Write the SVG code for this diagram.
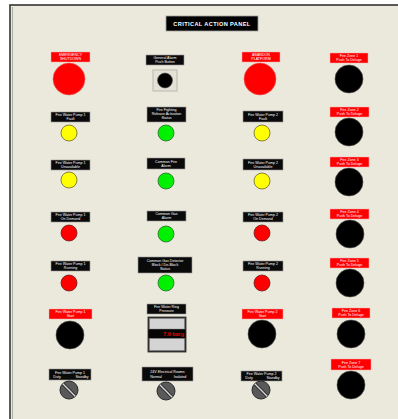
<svg xmlns="http://www.w3.org/2000/svg" width="398" height="419" viewBox="0 0 398 419">
<defs>
<style>
.bl{fill:#0a0a0a;stroke:#9a9a9a;stroke-width:0.6}
.rl{fill:#ff0000;stroke:#f4b0b0;stroke-width:0.5}
.t{fill:#ffffff;font-family:"Liberation Sans",Arial,sans-serif;font-size:3.6px;text-anchor:middle}
.big{fill:#ff0000;stroke:#e86060;stroke-width:0.6}
.push{fill:#000000;stroke:#555;stroke-width:0.6}
.yel{fill:#ffff00;stroke:#6b6530;stroke-width:0.8}
.grn{fill:#00f000;stroke:#2d6a2d;stroke-width:0.8}
.red{fill:#ff0000;stroke:#6a2020;stroke-width:0.8}
.knob{fill:#595959;stroke:#2a2a2a;stroke-width:1}
.stripe{stroke:#2a2a2a;stroke-width:3.2;stroke-linecap:butt}
.stripe2{stroke:#d8d8d8;stroke-width:1.4;stroke-linecap:butt}
</style>
<g id="knobdef">
<circle class="knob" cx="0" cy="0" r="9"/>
<line class="stripe" x1="-6.2" y1="-6.2" x2="6.2" y2="6.2"/>
<line class="stripe2" x1="-6.2" y1="-6.2" x2="6.2" y2="6.2"/>
</g>
</defs>
<rect x="0" y="0" width="398" height="419" fill="#ffffff"/>
<g id="panel">
<rect x="10" y="5" width="392" height="420" fill="#ebe9db" stroke="#333" stroke-width="1.6"/>
<line x1="12.5" y1="7" x2="12.5" y2="419" stroke="#9a9a9a" stroke-width="0.8"/>
</g>
<g id="title">
<rect x="166" y="16" width="92" height="15" fill="#000" stroke="#a0a0a0" stroke-width="0.8"/>
<text x="212" y="26" fill="#fff" font-family="Liberation Sans,Arial,sans-serif" font-size="5.6" font-weight="bold" text-anchor="middle" letter-spacing="0.4">CRITICAL  ACTION  PANEL</text>
</g>

<!-- Row 1 -->
<g id="emergency-shutdown">
<rect class="rl" x="51" y="52" width="39" height="10"/>
<text class="t" x="70.5" y="56">EMERGENCY</text><text class="t" x="70.5" y="60.2">SHUTDOWN</text>
<circle class="big" cx="69" cy="79" r="16"/>
</g>
<g id="general-alarm">
<rect class="bl" x="146" y="55" width="38" height="10"/>
<text class="t" x="165" y="59">General Alarm</text><text class="t" x="165" y="63.2">Push Button</text>
<rect x="153" y="70" width="24" height="21" fill="#e4e2d6" stroke="#b8b8b0" stroke-width="1"/>
<circle class="push" cx="165" cy="80.5" r="7.5"/>
</g>
<g id="abandon-platform">
<rect class="rl" x="242" y="52" width="38" height="10"/>
<text class="t" x="261" y="56">ABANDON</text><text class="t" x="261" y="60.2">PLATFORM</text>
<circle class="big" cx="260" cy="79" r="16"/>
</g>
<g id="fire-zone-1">
<rect class="rl" x="330" y="53" width="38" height="10"/>
<text class="t" x="349" y="57">Fire Zone 1</text><text class="t" x="349" y="61.2">Push To Deluge</text>
<circle class="push" cx="349" cy="79" r="14"/>
</g>

<!-- Row 2 -->
<g id="fwp1-fault">
<rect class="bl" x="51" y="112" width="39" height="10"/>
<text class="t" x="70.5" y="116">Fire Water Pump 1</text><text class="t" x="70.5" y="120.2">Fault</text>
<circle class="yel" cx="69" cy="133" r="8"/>
</g>
<g id="ff-release">
<rect class="bl" x="147" y="107" width="39" height="15"/>
<text class="t" x="166.5" y="111">Fire Fighting</text><text class="t" x="166.5" y="115.2">Release Activation</text><text class="t" x="166.5" y="119.4">Status</text>
<circle class="grn" cx="166" cy="133" r="8"/>
</g>
<g id="fwp2-fault">
<rect class="bl" x="243" y="111" width="40" height="11"/>
<text class="t" x="263" y="115.5">Fire Water Pump 2</text><text class="t" x="263" y="119.7">Fault</text>
<circle class="yel" cx="262" cy="133" r="8"/>
</g>
<g id="fire-zone-2">
<rect class="rl" x="330" y="107" width="39" height="10"/>
<text class="t" x="349.5" y="111">Fire Zone 2</text><text class="t" x="349.5" y="115.2">Push To Deluge</text>
<circle class="push" cx="349" cy="132" r="14"/>
</g>

<!-- Row 3 -->
<g id="fwp1-unavailable">
<rect class="bl" x="51" y="160" width="39" height="10"/>
<text class="t" x="70.5" y="164">Fire Water Pump 1</text><text class="t" x="70.5" y="168.2">Unavailable</text>
<circle class="yel" cx="69" cy="180" r="8"/>
</g>
<g id="common-fire-alarm">
<rect class="bl" x="147" y="158" width="38" height="11"/>
<text class="t" x="166" y="162.5">Common Fire</text><text class="t" x="166" y="166.7">Alarm</text>
<circle class="grn" cx="166" cy="181" r="8"/>
</g>
<g id="fwp2-unavailable">
<rect class="bl" x="243" y="159" width="40" height="11"/>
<text class="t" x="263" y="163.5">Fire Water Pump 2</text><text class="t" x="263" y="167.7">Unavailable</text>
<circle class="yel" cx="262" cy="181" r="8"/>
</g>
<g id="fire-zone-3">
<rect class="rl" x="330" y="157" width="39" height="10"/>
<text class="t" x="349.5" y="161">Fire Zone 3</text><text class="t" x="349.5" y="165.2">Push To Deluge</text>
<circle class="push" cx="349" cy="182" r="14"/>
</g>

<!-- Row 4 -->
<g id="fwp1-on-demand">
<rect class="bl" x="51" y="212" width="39" height="10"/>
<text class="t" x="70.5" y="216">Fire Water Pump 1</text><text class="t" x="70.5" y="220.2">On Demand</text>
<circle class="red" cx="69" cy="233" r="8"/>
</g>
<g id="common-gas-alarm">
<rect class="bl" x="147" y="211" width="39" height="10"/>
<text class="t" x="166.5" y="215">Common Gas</text><text class="t" x="166.5" y="219.2">Alarm</text>
<circle class="grn" cx="166" cy="234" r="8"/>
</g>
<g id="fwp2-on-demand">
<rect class="bl" x="243" y="212" width="40" height="10"/>
<text class="t" x="263" y="216">Fire Water Pump 2</text><text class="t" x="263" y="220.2">On Demand</text>
<circle class="red" cx="262" cy="233" r="8"/>
</g>
<g id="fire-zone-4">
<rect class="rl" x="330" y="209" width="39" height="10"/>
<text class="t" x="349.5" y="213">Fire Zone 4</text><text class="t" x="349.5" y="217.2">Push To Deluge</text>
<circle class="push" cx="350" cy="234" r="14"/>
</g>

<!-- Row 5 -->
<g id="fwp1-running">
<rect class="bl" x="51" y="261" width="39" height="10"/>
<text class="t" x="70.5" y="265">Fire Water Pump 1</text><text class="t" x="70.5" y="269.2">Running</text>
<circle class="red" cx="69" cy="283" r="8"/>
</g>
<g id="gas-detector-block">
<rect class="bl" x="138" y="257" width="54" height="16"/>
<text class="t" x="165" y="261.5">Common Gas Detector</text><text class="t" x="165" y="265.7">Block / De-Block</text><text class="t" x="165" y="269.9">Status</text>
<circle class="grn" cx="166" cy="283" r="8"/>
</g>
<g id="fwp2-running">
<rect class="bl" x="243" y="261" width="40" height="10"/>
<text class="t" x="263" y="265">Fire Water Pump 2</text><text class="t" x="263" y="269.2">Running</text>
<circle class="red" cx="262" cy="283" r="8"/>
</g>
<g id="fire-zone-5">
<rect class="rl" x="330" y="258" width="39" height="10"/>
<text class="t" x="349.5" y="262">Fire Zone 5</text><text class="t" x="349.5" y="266.2">Push To Deluge</text>
<circle class="push" cx="350" cy="283" r="14"/>
</g>

<!-- Row 6 -->
<g id="fwp1-start">
<rect class="rl" x="49" y="309" width="43" height="10"/>
<text class="t" x="70.5" y="313">Fire Water Pump 1</text><text class="t" x="70.5" y="317.2">Start</text>
<circle class="push" cx="70" cy="335" r="14"/>
</g>
<g id="ring-pressure">
<rect class="bl" x="147" y="304" width="39" height="10"/>
<text class="t" x="166.5" y="308">Fire Water Ring</text><text class="t" x="166.5" y="312.2">Pressure</text>
<rect x="148" y="317" width="38" height="35" fill="#3a3a3a" stroke="#222" stroke-width="0.8"/>
<rect x="149.5" y="318.5" width="35" height="10.5" fill="#d4d4d4" stroke="#777" stroke-width="0.4"/>
<rect x="148.5" y="329.5" width="37" height="8.5" fill="#050505"/>
<rect x="149.5" y="338.5" width="35" height="12" fill="#d4d4d4" stroke="#777" stroke-width="0.4"/>
<text x="184" y="336" fill="#e00000" font-family="Liberation Sans,Arial,sans-serif" font-size="5.4" font-weight="bold" text-anchor="end">7.0 barg</text>
</g>
<g id="fwp2-start">
<rect class="rl" x="242" y="309" width="41" height="10"/>
<text class="t" x="262.5" y="313">Fire Water Pump 2</text><text class="t" x="262.5" y="317.2">Start</text>
<circle class="push" cx="262" cy="334" r="14"/>
</g>
<g id="fire-zone-6">
<rect class="rl" x="332" y="308" width="38" height="10"/>
<text class="t" x="351" y="312">Fire Zone 6</text><text class="t" x="351" y="316.2">Push To Deluge</text>
<circle class="push" cx="351" cy="334" r="14"/>
</g>

<!-- Row 7 -->
<g id="fwp1-duty-standby">
<rect class="bl" x="49" y="369" width="42" height="11"/>
<text class="t" x="70" y="373.5">Fire Water Pump 1</text>
<text class="t" x="57" y="378">Duty</text><text class="t" x="82" y="378">Standby</text>
<use href="#knobdef" x="69" y="390"/>
</g>
<g id="electrical-rooms">
<rect class="bl" x="142" y="367" width="51" height="14"/>
<text class="t" x="167.5" y="372.5">24V Electrical Rooms</text>
<text class="t" x="156" y="377.5">Normal</text><text class="t" x="180" y="377.5">Isolated</text>
<use href="#knobdef" x="166" y="391"/>
</g>
<g id="fwp2-duty-standby">
<rect class="bl" x="241" y="371" width="41" height="10"/>
<text class="t" x="261.5" y="375">Fire Water Pump 2</text>
<text class="t" x="249" y="379.3">Duty</text><text class="t" x="273" y="379.3">Standby</text>
<use href="#knobdef" x="261" y="390"/>
</g>
<g id="fire-zone-7">
<rect class="rl" x="331" y="359" width="40" height="11"/>
<text class="t" x="351" y="363.5">Fire Zone 7</text><text class="t" x="351" y="367.7">Push To Deluge</text>
<circle class="push" cx="351" cy="385" r="14"/>
</g>
</svg>
